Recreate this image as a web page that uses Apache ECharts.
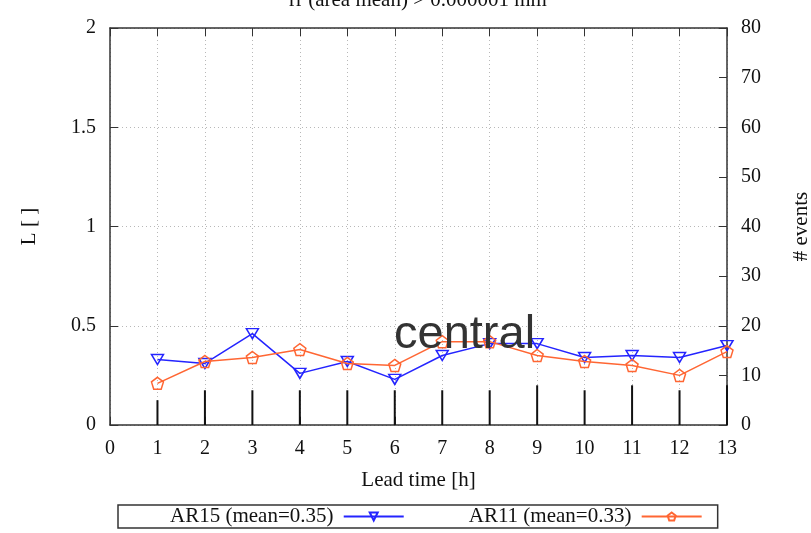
<!DOCTYPE html>
<html><head><meta charset="utf-8">
<script src="https://cdn.jsdelivr.net/npm/echarts@6/dist/echarts.min.js"></script>
<style>html,body{margin:0;padding:0;background:#fff}#c{width:811px;height:533px}</style>
</head><body><div id="c"></div>
<script>
const leadTimes = [1, 2, 3, 4, 5, 6, 7, 8, 9, 10, 11, 12, 13];
const ar15 = [0.33, 0.31, 0.46, 0.26, 0.32, 0.23, 0.35, 0.41, 0.41, 0.34, 0.35, 0.34, 0.40];
const ar11 = [0.21, 0.32, 0.34, 0.38, 0.31, 0.30, 0.42, 0.42, 0.35, 0.32, 0.30, 0.25, 0.37];
const nEvents = [5, 7, 7, 7, 7, 7, 7, 7, 8, 7, 8, 7, 8];
const seriesNames = ['AR15 (mean=0.35)', 'AR11 (mean=0.33)'];
const titleText = 'rr (area mean) > 0.000001 mm';
const overlayText = 'central';

const SERIF = 'Liberation Serif';
const BLUE = '#2424ff';
const ORANGE = '#ff6633';
const AX = '#333333';
const txt = {fontFamily: SERIF, fontSize: 20, color: '#111'};
const nameTxt = {fontFamily: SERIF, fontSize: 21, color: '#111'};
const pentagon = 'path://M0,-1 L0.951,-0.309 L0.588,0.809 L-0.588,0.809 L-0.951,-0.309 Z';
const invTri = 'path://M-1,-1 L1,-1 L0,0.8 Z';

const chart = echarts.init(document.getElementById('c'), null, {renderer: 'canvas'});
chart.setOption({
  animation: false,
  backgroundColor: '#fff',
  title: [
    {text: titleText, left: 289, top: -10, padding: 0, textStyle: {fontFamily: SERIF, fontSize: 21, fontWeight: 'normal', color: '#111'}},
    {text: overlayText, left: 394, top: 312, padding: 0, z: 20, textStyle: {fontFamily: 'Liberation Sans', fontSize: 47, fontWeight: 'normal', color: '#333'}}
  ],
  grid: {left: 110, right: 84, top: 28, bottom: 108, show: false, containLabel: false, outerBoundsMode: 'none'},
  legend: {
    left: 118, top: 505, padding: [1, 15, 1, 52], itemGap: 64,
    itemWidth: 60, itemHeight: 10, align: 'right',
    borderColor: AX, borderWidth: 1.5, borderRadius: 0,
    data: seriesNames,
    formatter: n => n + ' ',
    textStyle: {fontFamily: SERIF, fontSize: 21, color: '#111'}
  },
  xAxis: [
    {type: 'value', min: 0, max: 13, interval: 1, position: 'bottom',
     name: 'Lead time [h]', nameLocation: 'middle', nameGap: 45, nameTextStyle: nameTxt,
     axisLine: {show: true, lineStyle: {color: AX, width: 1.5}},
     axisTick: {show: true, inside: true, length: 8, lineStyle: {color: AX, width: 1}},
     axisLabel: Object.assign({margin: 14}, txt),
     splitLine: {show: true, lineStyle: {color: '#b8b8b8', type: [1, 3], width: 1}}},
    {type: 'value', min: 0, max: 13, interval: 1, position: 'top',
     axisLine: {show: true, onZero: false, lineStyle: {color: AX, width: 1.5}},
     axisTick: {show: true, inside: true, length: 8, lineStyle: {color: AX, width: 1}},
     axisLabel: {show: false}, splitLine: {show: false}}
  ],
  yAxis: [
    {type: 'value', min: 0, max: 2, interval: 0.5, position: 'left',
     name: 'L [ ]', nameLocation: 'middle', nameGap: 70, nameRotate: 90, nameTextStyle: nameTxt,
     axisLine: {show: true, onZero: false, lineStyle: {color: AX, width: 1.5}},
     axisTick: {show: true, inside: true, length: 8, lineStyle: {color: AX, width: 1}},
     axisLabel: Object.assign({margin: 14}, txt),
     splitLine: {show: true, lineStyle: {color: '#b8b8b8', type: [1, 3], width: 1}}},
    {type: 'value', min: 0, max: 80, interval: 10, position: 'right',
     name: '# events', nameLocation: 'middle', nameGap: 64, nameRotate: 90, nameTextStyle: nameTxt,
     axisLine: {show: true, onZero: false, lineStyle: {color: AX, width: 1.5}},
     axisTick: {show: true, inside: true, length: 8, lineStyle: {color: AX, width: 1}},
     axisLabel: Object.assign({margin: 14}, txt),
     splitLine: {show: false}}
  ],
  series: [
    {type: 'bar', xAxisIndex: 0, yAxisIndex: 1, barWidth: 2, z: 1, silent: true,
     itemStyle: {color: '#111'},
     data: leadTimes.map((x, i) => [x, nEvents[i]])},
    {name: seriesNames[0], type: 'line', xAxisIndex: 0, yAxisIndex: 0, z: 3,
     symbol: invTri, symbolSize: [12, 10], showAllSymbol: true,
     color: BLUE,
     lineStyle: {color: BLUE, width: 1.5},
     itemStyle: {color: '#ffffff00', borderColor: BLUE, borderWidth: 1.5},
     data: leadTimes.map((x, i) => [x, ar15[i]])},
    {name: seriesNames[1], type: 'line', xAxisIndex: 0, yAxisIndex: 0, z: 4,
     symbol: pentagon, symbolSize: 12, showAllSymbol: true,
     color: ORANGE,
     lineStyle: {color: ORANGE, width: 1.5},
     itemStyle: {color: '#ffffff00', borderColor: ORANGE, borderWidth: 1.5},
     data: leadTimes.map((x, i) => [x, ar11[i]])}
  ]
});
</script></body></html>
